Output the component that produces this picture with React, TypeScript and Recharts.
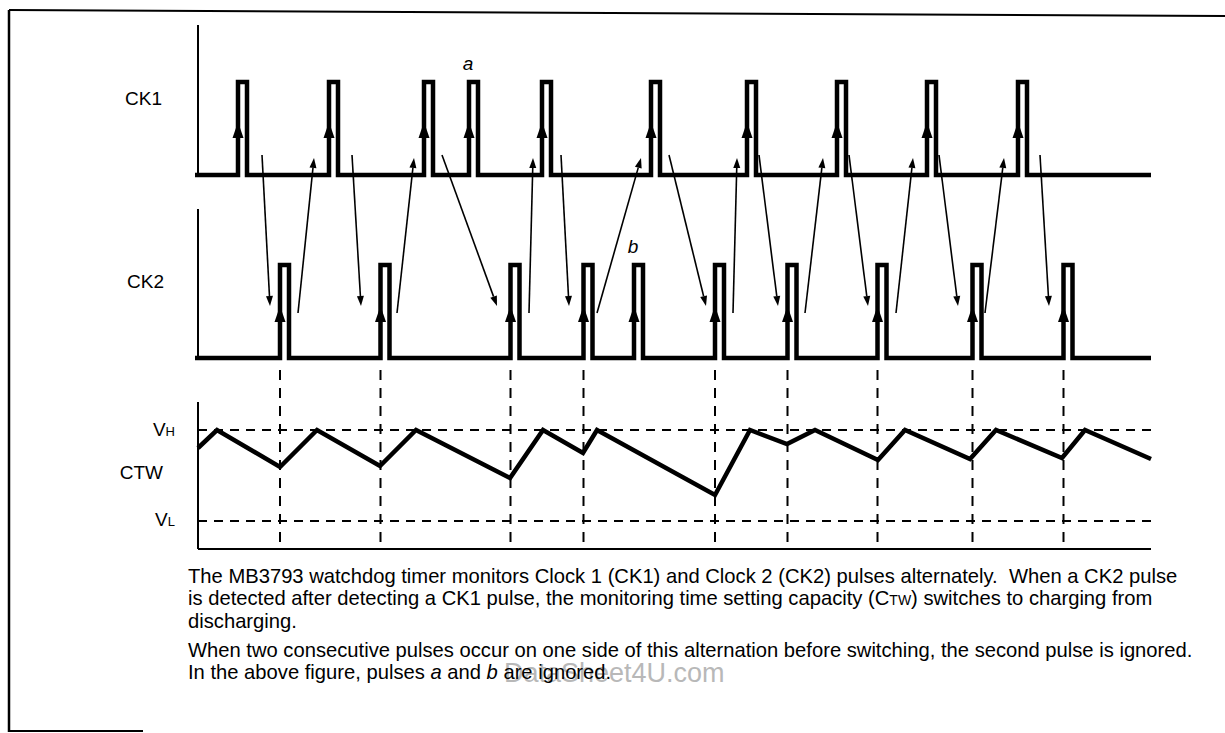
import React from 'react'
import { LineChart, Line, XAxis, YAxis, ReferenceLine, ReferenceDot } from 'recharts'

// time axis in arbitrary units, level axis shared by the three traces
const ck1Rises = [40, 131, 226, 271, 344, 453, 549, 639, 729, 820]
const ck2Rises = [82, 182.5, 312.5, 385.5, 436, 517, 589.5, 679.5, 774.5, 865.5]
const PULSE_W = 9
const T_START = -3
const T_END = 953

const CK1_LOW = 374
const CK1_HIGH = 467
const CK1_TOP = 524
const CK2_LOW = 191
const CK2_HIGH = 284
const CK2_TOP = 340
const VH = 119
const VL = 28
const CTW_TOP = 147

// capacitor voltage corners (charge to VH, discharge until next CK2)
const ctwTimes = [0, 19, 82, 119, 182, 218, 312, 345, 385, 399, 517, 552, 589, 617, 680, 707, 772, 798, 864, 887, 953]
const ctwValues = [101, 119, 82, 119, 83, 119, 71, 119, 96, 119, 54, 119, 105, 119, 89, 119, 90, 119, 91, 119, 90]

// CK1 -> CK2 and CK2 -> CK1 hand-over arrows (from time, to time)
const downArrows = [[64, 72], [154, 163], [244, 299], [363, 371], [471, 508], [561, 580], [651, 670], [741, 760], [842, 851]]
const upArrows = [[100, 116], [199, 216], [331, 335], [399, 443], [535, 539], [607, 625], [698, 715], [787, 806]]
const DOWN_FROM = 394
const DOWN_TO = 243
const UP_FROM = 236
const UP_TO = 391

// rising edges of CK2 that switch CTW to charging (pulse b is ignored)
const switchTimes = [82, 182.5, 312.5, 385.5, 517, 589.5, 679.5, 774.5, 865.5]

const sideLabels = ['CK1', 'CK2', 'VH', 'CTW', 'VL']
const sideLabelAt = [451, 268, 120, 77, 30]
const SIDE_RIGHT = [162, 164, 175, 163, 175]

const pulseTrain = (rises: number[], lo: number, hi: number) => {
  const pts = [{ t: T_START, v: lo }]
  rises.forEach((r) => {
    pts.push({ t: r, v: lo }, { t: r, v: hi }, { t: r + PULSE_W, v: hi }, { t: r + PULSE_W, v: lo })
  })
  pts.push({ t: T_END, v: lo })
  return pts
}

const ck1Data = pulseTrain(ck1Rises, CK1_LOW, CK1_HIGH)
const ck2Data = pulseTrain(ck2Rises, CK2_LOW, CK2_HIGH)
const ctwData = ctwTimes.map((t, i) => ({ t, v: ctwValues[i] }))

const arrow = (head: number, half: number, width: number) => (p: any) => {
  const { x1, y1, x2, y2 } = p
  const dx = x2 - x1
  const dy = y2 - y1
  const len = Math.hypot(dx, dy) || 1
  const ux = dx / len
  const uy = dy / len
  const bx = x2 - ux * head
  const by = y2 - uy * head
  const pts = `${x2},${y2} ${bx - uy * half},${by + ux * half} ${bx + uy * half},${by - ux * half}`
  return (
    <g>
      {width > 0 && <line x1={x1} y1={y1} x2={bx} y2={by} stroke="#000" strokeWidth={width} />}
      <polygon points={pts} fill="#000" />
    </g>
  )
}

function SideTick(props: any) {
  const i = sideLabelAt.indexOf(props.payload.value)
  if (i < 0) return null
  const text = sideLabels[i]
  const sub = text === 'VH' || text === 'VL'
  return (
    <text x={SIDE_RIGHT[i]} y={props.y} dy="0.36em" textAnchor="end" fontSize={19} fill="#000">
      {sub ? (
        <>
          <tspan>V</tspan>
          <tspan fontSize={13}>{text[1]}</tspan>
        </>
      ) : (
        text
      )}
    </text>
  )
}

const para = {
  position: 'absolute' as const,
  left: 188,
  fontSize: 20.2,
  lineHeight: '21.5px',
  whiteSpace: 'nowrap' as const,
}

export default function App() {
  const thin = arrow(10, 3.5, 1.6)
  const edge = arrow(16, 5.5, 0)

  return (
    <div
      style={{
        position: 'absolute',
        left: 0,
        top: 0,
        width: 1225,
        height: 733,
        background: '#fff',
        fontFamily: '"Liberation Sans", Arial, sans-serif',
        color: '#000',
      }}
    >
      {/* frame of the datasheet figure */}
      <svg width={1225} height={733} style={{ position: 'absolute', left: 0, top: 0 }}>
        <line x1={9} y1={10} x2={1225} y2={16} stroke="#000" strokeWidth={2} />
        <line x1={9} y1={10} x2={9} y2={732} stroke="#000" strokeWidth={2.5} />
        <line x1={9} y1={731} x2={143} y2={731} stroke="#000" strokeWidth={2} />
      </svg>

      <div style={{ position: 'absolute', left: 0, top: 0 }}>
        <LineChart width={1225} height={733} margin={{ top: 20, right: 72, bottom: 179, left: 0 }}>
          <XAxis type="number" dataKey="t" domain={[-5, 955]} hide allowDataOverflow />
          <YAxis
            type="number"
            domain={[-5, 529]}
            ticks={sideLabelAt}
            interval={0}
            tick={<SideTick />}
            axisLine={false}
            tickLine={false}
            width={193}
            allowDataOverflow
          />

          {/* panel axes */}
          <ReferenceLine segment={[{ x: 0, y: CK1_LOW }, { x: 0, y: CK1_TOP }]} stroke="#000" strokeWidth={2} />
          <ReferenceLine segment={[{ x: 0, y: CK2_LOW }, { x: 0, y: CK2_TOP }]} stroke="#000" strokeWidth={2} />
          <ReferenceLine segment={[{ x: 0, y: 0 }, { x: 0, y: CTW_TOP }]} stroke="#000" strokeWidth={2} />
          <ReferenceLine segment={[{ x: 0, y: 0 }, { x: T_END, y: 0 }]} stroke="#000" strokeWidth={2} />

          {/* thresholds */}
          <ReferenceLine segment={[{ x: 0, y: VH }, { x: T_END, y: VH }]} stroke="#000" strokeWidth={2} strokeDasharray="9 7" />
          <ReferenceLine segment={[{ x: 0, y: VL }, { x: T_END, y: VL }]} stroke="#000" strokeWidth={2} strokeDasharray="9 7" />

          {switchTimes.map((t) => (
            <ReferenceLine
              key={`sw${t}`}
              segment={[{ x: t, y: 179 }, { x: t, y: 0 }]}
              stroke="#000"
              strokeWidth={2}
              strokeDasharray="10 8"
            />
          ))}

          {downArrows.map(([a, b]) => (
            <ReferenceLine key={`d${a}`} segment={[{ x: a, y: DOWN_FROM }, { x: b, y: DOWN_TO }]} shape={thin} />
          ))}
          {upArrows.map(([a, b]) => (
            <ReferenceLine key={`u${a}`} segment={[{ x: a, y: UP_FROM }, { x: b, y: UP_TO }]} shape={thin} />
          ))}

          {ck1Rises.map((t) => (
            <ReferenceLine key={`e1${t}`} segment={[{ x: t, y: 408 }, { x: t, y: 427 }]} shape={edge} />
          ))}
          {ck2Rises.map((t) => (
            <ReferenceLine key={`e2${t}`} segment={[{ x: t, y: 225 }, { x: t, y: 243 }]} shape={edge} />
          ))}

          <Line data={ck1Data} dataKey="v" stroke="#000" strokeWidth={4.5} strokeLinejoin="miter" dot={false} activeDot={false} isAnimationActive={false} />
          <Line data={ck2Data} dataKey="v" stroke="#000" strokeWidth={4.5} strokeLinejoin="miter" dot={false} activeDot={false} isAnimationActive={false} />
          <Line data={ctwData} dataKey="v" stroke="#000" strokeWidth={4.5} strokeLinejoin="miter" dot={false} activeDot={false} isAnimationActive={false} />

          <ReferenceDot x={270} y={486} r={1} fill="none" stroke="none" label={{ value: 'a', position: 'center', fontSize: 19, fontStyle: 'italic', fill: '#000' }} />
          <ReferenceDot x={435} y={303} r={1} fill="none" stroke="none" label={{ value: 'b', position: 'center', fontSize: 19, fontStyle: 'italic', fill: '#000' }} />
        </LineChart>
      </div>

      <div
        style={{
          position: 'absolute',
          left: 504,
          top: 657,
          fontSize: 27,
          lineHeight: '32px',
          color: '#b8b8b8',
          whiteSpace: 'nowrap',
        }}
      >
        DataSheet4U.com
      </div>
      <div style={{ ...para, top: 566 }}>
        The MB3793 watchdog timer monitors Clock 1 (CK1) and Clock 2 (CK2) pulses alternately.&nbsp; When a CK2 pulse
        <br />
        is detected after detecting a CK1 pulse, the monitoring time setting capacity (C
        <span style={{ fontSize: 14 }}>TW</span>) switches to charging from
        <br />
        discharging.
      </div>
      <div style={{ ...para, top: 640 }}>
        When two consecutive pulses occur on one side of this alternation before switching, the second pulse is ignored.
        <br />
        In the above figure, pulses <i>a</i> and <i>b</i> are ignored.
      </div>
    </div>
  )
}
